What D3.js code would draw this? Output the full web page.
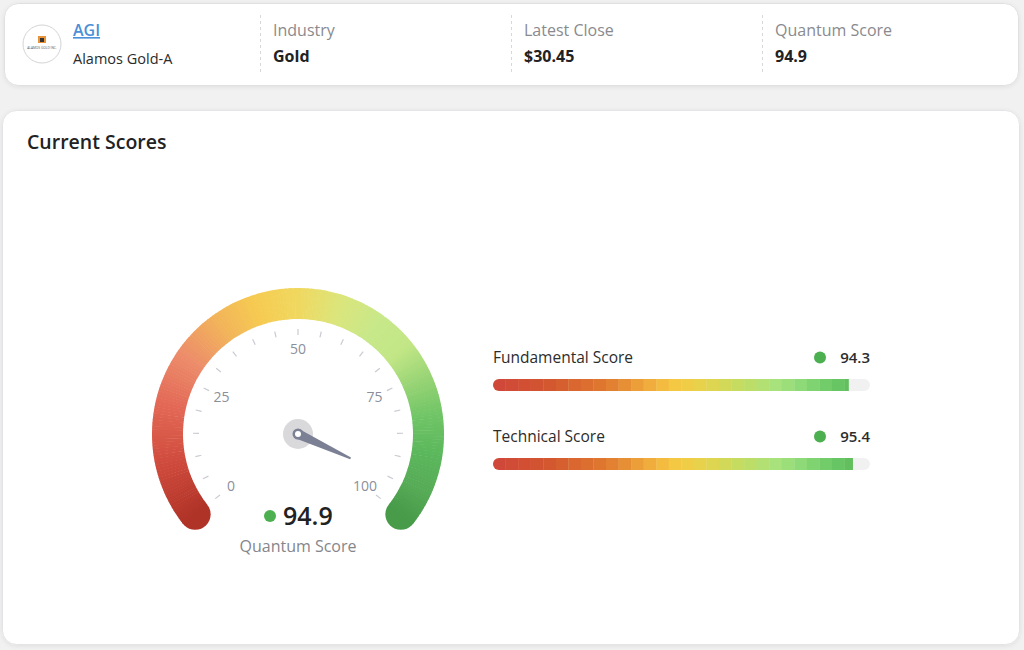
<!DOCTYPE html>
<html>
<head>
<meta charset="utf-8">
<script src="https://cdn.jsdelivr.net/npm/d3@7"></script>
<style>
  html, body { margin: 0; padding: 0; background: #f1f1f1; }
  svg { display: block; font-family: "Open Sans", "Noto Sans", sans-serif; }
</style>
</head>
<body>
<div id="chart"></div>
<script>
// summary card
const ticker = "AGI";
const companyName = "Alamos Gold-A";
const infoLabels = ["Industry", "Latest Close", "Quantum Score"];
const infoValues = ["Gold", "$30.45", "94.9"];

// gauge
const quantumScore = 94.9;
const gaugeTicks = d3.range(0, 101, 5);
const gaugeLabels = [0, 25, 50, 75, 100];
// colour along the arc
const arcStops = [0, 10, 20, 28, 36, 43, 50, 57, 64, 70, 76, 82, 88, 95, 100];
const arcColors = ["#b03327", "#cf4b3d", "#e36a57", "#ec8b6a", "#f2b35a", "#f6cb51", "#f0d860",
                   "#dbe57b", "#c7e889", "#c2e685", "#97d475", "#70c566", "#5cb85c", "#56aa56", "#479b49"];

// sub scores
const scoreNames = ["Fundamental Score", "Technical Score"];
const scoreValues = [94.3, 95.4];
const barStops = [0, 15, 30, 40, 48, 56, 65, 75, 82, 90, 100];
const barColors = ["#d0463a", "#d3572f", "#e07a30", "#efa53b", "#f6c843", "#e6d34c",
                   "#c6dc60", "#a8e27c", "#8dda78", "#6ac865", "#58b657"];

const W = 1024, H = 650;
const green = "#4caf50";

const svg = d3.select("#chart").append("svg")
  .attr("width", W).attr("height", H);

const defs = svg.append("defs");
const shadow = defs.append("filter").attr("id", "shadow")
  .attr("x", "-5%").attr("y", "-20%").attr("width", "110%").attr("height", "140%");
shadow.append("feDropShadow").attr("dx", 0).attr("dy", 1).attr("stdDeviation", 2)
  .attr("flood-color", "#000").attr("flood-opacity", 0.08);

// ---- top card ----
svg.append("rect")
  .attr("x", 4.5).attr("y", 3.5).attr("width", 1014).attr("height", 82)
  .attr("rx", 14).attr("fill", "#fff").attr("stroke", "#e0e0e2")
  .attr("filter", "url(#shadow)");

svg.append("circle").attr("cx", 42).attr("cy", 44).attr("r", 19)
  .attr("fill", "#fff").attr("stroke", "#d4d4d4");
svg.append("rect").attr("x", 38).attr("y", 36).attr("width", 8).attr("height", 7).attr("fill", "#e8923a");
svg.append("rect").attr("x", 40).attr("y", 38).attr("width", 4).attr("height", 4).attr("fill", "#333");
svg.append("text").attr("x", 42).attr("y", 49).attr("text-anchor", "middle")
  .attr("font-size", 3.2).attr("fill", "#555").text("ALAMOS GOLD INC.");

svg.append("text").attr("x", 73).attr("y", 36)
  .attr("font-size", 16).attr("font-weight", 600).attr("fill", "#4a8fd8")
  .attr("text-decoration", "underline").text(ticker);
svg.append("text").attr("x", 73).attr("y", 64)
  .attr("font-size", 14.5).attr("fill", "#2b2b2b").text(companyName);

const colX = [273, 524, 775];
infoLabels.forEach((lab, i) => {
  svg.append("line")
    .attr("x1", colX[i] - 12.5).attr("x2", colX[i] - 12.5)
    .attr("y1", 15).attr("y2", 73)
    .attr("stroke", "#d8d8d8").attr("stroke-dasharray", "3,3");
  svg.append("text").attr("x", colX[i]).attr("y", 36)
    .attr("font-size", 16).attr("fill", "#8a8a8e").text(lab);
  svg.append("text").attr("x", colX[i]).attr("y", 62)
    .attr("font-size", 16).attr("font-weight", 700).attr("fill", "#222").text(infoValues[i]);
});

// ---- scores card ----
svg.append("rect")
  .attr("x", 2.5).attr("y", 110.5).attr("width", 1017).attr("height", 534)
  .attr("rx", 14).attr("fill", "#fff").attr("stroke", "#e4e4e6")
  .attr("filter", "url(#shadow)");

svg.append("text").attr("x", 27).attr("y", 149)
  .attr("font-size", 19.5).attr("font-weight", 600).attr("fill", "#222").text("Current Scores");

// gauge
const cx = 298, cy = 434;
const rOuter = 146, rInner = 115, rMid = (rOuter + rInner) / 2;
const angle = d3.scaleLinear().domain([0, 100]).range([-128, 128]);
const arcColor = d3.scaleLinear().domain(arcStops).range(arcColors).interpolate(d3.interpolateRgb);
const rad = a => a * Math.PI / 180;

const g = svg.append("g").attr("transform", `translate(${cx},${cy})`);

// end caps
[0, 100].forEach(v => {
  const a = rad(angle(v));
  g.append("circle")
    .attr("cx", rMid * Math.sin(a)).attr("cy", -rMid * Math.cos(a))
    .attr("r", (rOuter - rInner) / 2).attr("fill", arcColor(v));
});

const arcGen = d3.arc().innerRadius(rInner).outerRadius(rOuter);
const steps = d3.range(0, 100, 0.5);
g.selectAll("path.seg").data(steps).join("path")
  .attr("class", "seg")
  .attr("d", v => arcGen({ startAngle: rad(angle(v)), endAngle: rad(angle(v + 0.5)) + 0.004 }))
  .attr("fill", v => arcColor(v + 0.25));

// ticks
g.selectAll("line.tick").data(gaugeTicks).join("line")
  .attr("class", "tick")
  .attr("x1", v => 99 * Math.sin(rad(angle(v))))
  .attr("y1", v => -99 * Math.cos(rad(angle(v))))
  .attr("x2", v => 105 * Math.sin(rad(angle(v))))
  .attr("y2", v => -105 * Math.cos(rad(angle(v))))
  .attr("stroke", "#c9cbd2").attr("stroke-width", 1.2);

g.selectAll("text.lab").data(gaugeLabels).join("text")
  .attr("class", "lab")
  .attr("x", v => 85 * Math.sin(rad(angle(v))))
  .attr("y", v => -85 * Math.cos(rad(angle(v))) + 5)
  .attr("text-anchor", "middle")
  .attr("font-size", 14).attr("fill", "#8b8f9c")
  .text(d => d);

// needle
const na = rad(angle(quantumScore));
const tipR = 58;
const ux = Math.sin(na), uy = -Math.cos(na);
const px = -uy, py = ux;
g.append("circle").attr("r", 15).attr("fill", "#d9d9dc");
g.append("path")
  .attr("d", `M${px * 5},${py * 5} L${ux * tipR + px * 1},${uy * tipR + py * 1} L${ux * tipR - px * 1},${uy * tipR - py * 1} L${-px * 5},${-py * 5} Z`)
  .attr("fill", "#7b8095");
g.append("circle").attr("r", 5.5).attr("fill", "#7b8095");
g.append("circle").attr("r", 3).attr("fill", "#fff");

// value
svg.append("circle").attr("cx", 270).attr("cy", 516).attr("r", 6).attr("fill", green);
svg.append("text").attr("x", 283).attr("y", 525)
  .attr("font-size", 25).attr("font-weight", 600).attr("fill", "#222").text(quantumScore.toFixed(1));
svg.append("text").attr("x", cx).attr("y", 552).attr("text-anchor", "middle")
  .attr("font-size", 16).attr("fill", "#85868c").text("Quantum Score");

// sub score bars
const bx0 = 493, bx1 = 870;
const x = d3.scaleLinear().domain([0, 100]).range([bx0, bx1]);
const barColor = d3.scaleLinear().domain(barStops).range(barColors);
const rowY = [363, 442];
const segW = 3.33;

scoreNames.forEach((name, i) => {
  const y0 = rowY[i];
  svg.append("text").attr("x", bx0).attr("y", y0)
    .attr("font-size", 15.5).attr("fill", "#2c2c2c").text(name);
  svg.append("text").attr("x", bx1).attr("y", y0).attr("text-anchor", "end")
    .attr("font-size", 15).attr("font-weight", 600).attr("fill", "#2c2c2c")
    .text(scoreValues[i].toFixed(1));
  svg.append("circle").attr("cx", 820).attr("cy", y0 - 5.5).attr("r", 6).attr("fill", green);

  const by = y0 + 16;
  const clipId = "clip" + i;
  defs.append("clipPath").attr("id", clipId).append("rect")
    .attr("x", bx0).attr("y", by).attr("width", bx1 - bx0).attr("height", 12).attr("rx", 6);
  const bg = svg.append("g").attr("clip-path", `url(#${clipId})`);
  bg.append("rect").attr("x", bx0).attr("y", by).attr("width", bx1 - bx0).attr("height", 12)
    .attr("fill", "#f1f1f2");
  const segs = d3.range(0, scoreValues[i], segW);
  bg.selectAll("rect.seg").data(segs).join("rect")
    .attr("class", "seg")
    .attr("x", v => x(v))
    .attr("y", by)
    .attr("width", v => x(Math.min(v + segW, scoreValues[i])) - x(v) + 0.3)
    .attr("height", 12)
    .attr("fill", v => barColor(v + segW / 2));
});
</script>
</body>
</html>
